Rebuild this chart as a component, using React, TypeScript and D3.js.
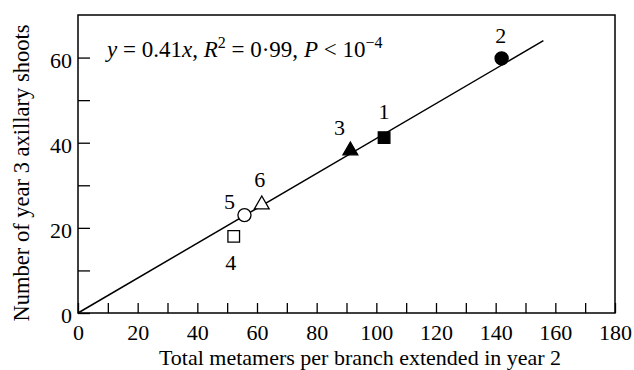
import React, { useRef, useEffect } from "react";
import * as d3 from "d3";

// branch data
const pointLabels = ["1", "2", "3", "4", "5", "6"];
const metamers = [102.6, 142, 91.3, 52.2, 55.8, 61.6];
const shoots = [41.2, 59.8, 38.4, 18.0, 23.0, 25.7];
const markerShapes = ["square", "circle", "triangle", "square", "circle", "triangle"];
const markerFilled = [true, true, true, false, false, false];

const xTicks = [0, 20, 40, 60, 80, 100, 120, 140, 160, 180];
const yTicks = [0, 20, 40, 60];
const slope = 0.41;
const fitEnd = 156;

const FONT = "Liberation Serif";

const App = () => {
  const ref = useRef<SVGSVGElement>(null);
  const width = 634;
  const height = 370;

  useEffect(() => {
    const svg = d3.select(ref.current);
    svg.selectAll("*").remove();

    const margin = { top: 15, right: 19, bottom: 57, left: 78 };
    const innerW = width - margin.left - margin.right;
    const innerH = height - margin.top - margin.bottom;

    const g = svg
      .append("g")
      .attr("transform", `translate(${margin.left},${margin.top})`);

    const x = d3.scaleLinear().domain([0, 180]).range([0, innerW]);
    const y = d3.scaleLinear().domain([0, 70]).range([innerH, 0]);

    // frame
    g.append("rect")
      .attr("width", innerW)
      .attr("height", innerH)
      .attr("fill", "none")
      .attr("stroke", "#000")
      .attr("stroke-width", 1.5);

    // x axis: inward ticks every 10, labels every 20
    const xAxis = d3
      .axisBottom(x)
      .tickValues(d3.range(0, 181, 10))
      .tickSize(-10)
      .tickFormat((d) => (xTicks.includes(+d) ? String(d) : ""));
    const gx = g.append("g").attr("transform", `translate(0,${innerH})`).call(xAxis);
    gx.attr("font-family", null).attr("font-size", null);
    gx.select(".domain").remove();
    gx.selectAll("line").attr("stroke-width", 1.3);
    gx.selectAll("text")
      .attr("y", 27)
      .attr("dy", null)
      .style("font-family", FONT)
      .style("font-size", "22px")
      .attr("fill", "#000");

    const yAxis = d3
      .axisLeft(y)
      .tickValues(d3.range(0, 61, 10))
      .tickSize(-12)
      .tickFormat((d) => (yTicks.includes(+d) ? String(d) : ""));
    const gy = g.append("g").call(yAxis);
    gy.attr("font-family", null).attr("font-size", null);
    gy.select(".domain").remove();
    gy.selectAll("line").attr("stroke-width", 1.3);
    gy.selectAll("text")
      .attr("x", -6)
      .attr("dy", "0.45em")
      .style("font-family", FONT)
      .style("font-size", "22px")
      .attr("fill", "#000");

    // regression line
    const line = d3
      .line<number>()
      .x((d) => x(d))
      .y((d) => y(slope * d));
    g.append("path")
      .datum([0, fitEnd])
      .attr("d", line)
      .attr("fill", "none")
      .attr("stroke", "#000")
      .attr("stroke-width", 1.5);

    // markers
    const symbolFor = (s: string) =>
      s === "square" ? d3.symbolSquare : s === "circle" ? d3.symbolCircle : d3.symbolTriangle;
    const sizeFor = (s: string) => (s === "square" ? 135 : s === "circle" ? 135 : 95);

    const pts = pointLabels.map((label, i) => ({
      label,
      x: metamers[i],
      y: shoots[i],
      shape: markerShapes[i],
      filled: markerFilled[i],
    }));

    g.selectAll(".pt")
      .data(pts)
      .enter()
      .append("path")
      .attr("class", "pt")
      .attr("transform", (d) => `translate(${x(d.x)},${y(d.y) + (d.shape === "triangle" ? 1 : 0)})`)
      .attr("d", (d) => d3.symbol().type(symbolFor(d.shape)).size(sizeFor(d.shape))())
      .attr("fill", (d) => (d.filled ? "#000" : "#fff"))
      .attr("stroke", "#000")
      .attr("stroke-width", 1.3);

    // number labels, offsets in px from the marker
    const labelOffset: Record<string, [number, number]> = {
      "1": [0, -19],
      "2": [-1, -15],
      "3": [-11, -15],
      "4": [-3, 34],
      "5": [-15, -6],
      "6": [-2, -17],
    };
    g.selectAll(".lbl")
      .data(pts)
      .enter()
      .append("text")
      .attr("x", (d) => x(d.x) + labelOffset[d.label][0])
      .attr("y", (d) => y(d.y) + labelOffset[d.label][1])
      .attr("text-anchor", "middle")
      .style("font-family", FONT)
      .style("font-size", "22px")
      .text((d) => d.label);

    // equation
    const eq = g
      .append("text")
      .attr("x", 107 - margin.left)
      .attr("y", 57 - margin.top)
      .style("font-family", FONT)
      .style("font-size", "23px");
    eq.append("tspan").style("font-style", "italic").text("y");
    eq.append("tspan").text(" = 0.41");
    eq.append("tspan").style("font-style", "italic").text("x");
    eq.append("tspan").text(", ");
    eq.append("tspan").style("font-style", "italic").text("R");
    eq.append("tspan").attr("dy", -9).style("font-size", "16px").text("2");
    eq.append("tspan").attr("dy", 9).text(" = 0·99, ");
    eq.append("tspan").style("font-style", "italic").text("P");
    eq.append("tspan").text(" < 10");
    eq.append("tspan").attr("dy", -9).style("font-size", "16px").text("−4");

    // axis titles
    svg.append("text")
      .attr("x", 360)
      .attr("y", 365)
      .attr("text-anchor", "middle")
      .style("font-family", FONT)
      .style("font-size", "22px")
      .text("Total metamers per branch extended in year 2");

    svg.append("text")
      .attr("transform", "translate(29,173) rotate(-90)")
      .attr("text-anchor", "middle")
      .style("font-family", FONT)
      .style("font-size", "22.5px")
      .text("Number of year 3 axillary shoots");
  }, []);

  return (
    <svg
      ref={ref}
      width={width}
      height={height}
      style={{ position: "absolute", left: 0, top: 0, background: "#fff" }}
    ></svg>
  );
};

export default App;
